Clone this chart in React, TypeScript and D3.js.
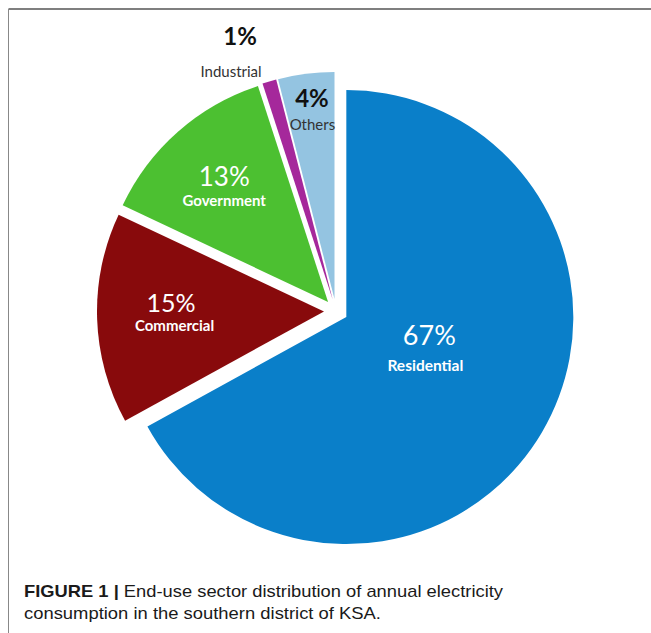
import React from "react";
import * as d3 from "d3";

const categories = ["Residential", "Commercial", "Government", "Industrial", "Others"];
const shares = [67, 15, 13, 1, 4];
const pctLabels = ["67%", "15%", "13%", "1%", "4%"];
const colors = ["#0a7fc9", "#880a0c", "#4cc031", "#a5289b", "#94c4e1"];
const captionBold = "FIGURE 1 |";
const captionLine1 = " End-use sector distribution of annual electricity";
const captionLine2 = "consumption in the southern district of KSA.";

const W = 651;
const H = 633;
const cx = 336;
const cy = 311;
const R = 227;
const explode = 12;

// label styling per slice (index-aligned with categories)
const labelStyle = [
  { r: 98, pdx: 9, pdy: -16, ndx: 5, ndy: 10, pctColor: "#fff", nameColor: "#fff", pctSize: 27, nameSize: 15.5, pctWeight: 400, nameWeight: 700 },
  { r: 166, pdx: 1, pdy: -4, ndx: 4.5, ndy: 15, pctColor: "#fff", nameColor: "#fff", pctSize: 25, nameSize: 15, pctWeight: 400, nameWeight: 700 },
  { r: 166, pdx: -2, pdy: 0, ndx: -2, ndy: 20, pctColor: "#fff", nameColor: "#fff", pctSize: 26, nameSize: 15, pctWeight: 400, nameWeight: 700 },
  { r: 258, pdx: -24, pdy: -18, ndx: -33, ndy: 14, pctColor: "#111", nameColor: "#333", pctSize: 24, nameSize: 15, pctWeight: 700, nameWeight: 400 },
  { r: 200, pdx: 1, pdy: -5.6, ndx: 1.5, ndy: 17.4, pctColor: "#111", nameColor: "#333", pctSize: 24, nameSize: 15, pctWeight: 700, nameWeight: 400 },
];

export default function App() {
  const pie = d3
    .pie<number>()
    .sort(null)
    .startAngle(0)
    .endAngle(2 * Math.PI)(shares);
  const arc = d3.arc<d3.PieArcDatum<number>>().innerRadius(0).outerRadius(R);

  const font = "Lato, 'Open Sans', sans-serif";

  return (
    <svg
      width={W}
      height={H}
      style={{ position: "absolute", left: 0, top: 0, background: "#fff" }}
    >
      <rect x={0} y={0} width={W} height={H} fill="#fff" />
      <line x1={8.5} y1={9} x2={W} y2={9} stroke="#555" strokeWidth={1.5} />
      <line x1={8.5} y1={9} x2={8.5} y2={H} stroke="#888" strokeWidth={1} />
      <g>
        {pie.map((p, i) => {
          const mid = (p.startAngle + p.endAngle) / 2;
          const dx = explode * Math.sin(mid);
          const dy = -explode * Math.cos(mid);
          return (
            <path
              key={categories[i]}
              d={arc(p) || ""}
              fill={colors[i]}
              transform={`translate(${cx + dx},${cy + dy})`}
            />
          );
        })}
      </g>
      <g fontFamily={font} textAnchor="middle">
        {pie.map((p, i) => {
          const mid = (p.startAngle + p.endAngle) / 2;
          const s = labelStyle[i];
          const x = cx + s.r * Math.sin(mid);
          const y = cy - s.r * Math.cos(mid);
          return (
            <g key={categories[i]}>
              <text x={x + s.pdx} y={y + s.pdy} fontSize={s.pctSize} fontWeight={s.pctWeight} fill={s.pctColor}>
                {pctLabels[i]}
              </text>
              <text x={x + s.ndx} y={y + s.ndy} fontSize={s.nameSize} fontWeight={s.nameWeight} fill={s.nameColor}>
                {categories[i]}
              </text>
            </g>
          );
        })}
      </g>
      <g fontFamily="'Liberation Sans', Arial, sans-serif" fontSize={17} fill="#1a1a1a">
        <text x={24} y={597} textLength={479} lengthAdjust="spacingAndGlyphs">
          <tspan fontWeight={700}>{captionBold}</tspan>
          <tspan>{captionLine1}</tspan>
        </text>
        <text x={24} y={619} textLength={357} lengthAdjust="spacingAndGlyphs">
          {captionLine2}
        </text>
      </g>
    </svg>
  );
}
